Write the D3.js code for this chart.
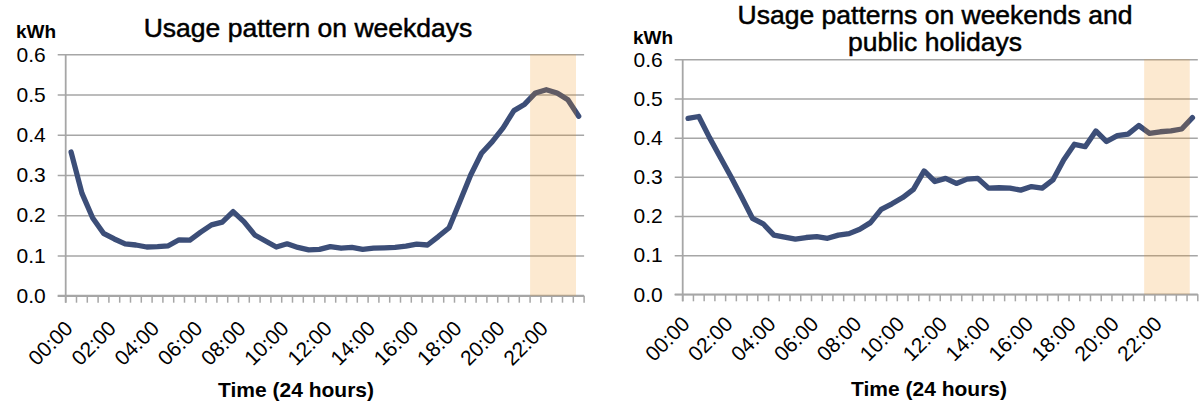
<!DOCTYPE html>
<html>
<head>
<meta charset="utf-8">
<script src="https://cdn.jsdelivr.net/npm/d3@7"></script>
<style>
  html, body { margin: 0; padding: 0; background: #fff; }
  svg { display: block; }
  text { font-family: "Liberation Sans", Arial, sans-serif; fill: #000; }
</style>
</head>
<body>
<svg id="chart" width="1200" height="403"></svg>
<script>
// ---- data ----
const categories = [
  "00:00","00:30","01:00","01:30","02:00","02:30","03:00","03:30",
  "04:00","04:30","05:00","05:30","06:00","06:30","07:00","07:30",
  "08:00","08:30","09:00","09:30","10:00","10:30","11:00","11:30",
  "12:00","12:30","13:00","13:30","14:00","14:30","15:00","15:30",
  "16:00","16:30","17:00","17:30","18:00","18:30","19:00","19:30",
  "20:00","20:30","21:00","21:30","22:00","22:30","23:00","23:30"
];
const weekdayUsage = [
  0.357, 0.255, 0.193, 0.155, 0.141, 0.129, 0.126, 0.121,
  0.122, 0.124, 0.139, 0.138, 0.158, 0.176, 0.183, 0.209,
  0.184, 0.151, 0.136, 0.121, 0.129, 0.120, 0.114, 0.115,
  0.122, 0.118, 0.120, 0.115, 0.118, 0.119, 0.120, 0.123,
  0.128, 0.126, 0.147, 0.169, 0.234, 0.300, 0.354, 0.383,
  0.417, 0.460, 0.476, 0.504, 0.512, 0.504, 0.487, 0.446
];
const weekendUsage = [
  0.449, 0.454, 0.400, 0.350, 0.300, 0.248, 0.194, 0.180,
  0.151, 0.146, 0.141, 0.145, 0.147, 0.143, 0.151, 0.155,
  0.166, 0.183, 0.217, 0.231, 0.247, 0.268, 0.315, 0.288,
  0.296, 0.283, 0.294, 0.296, 0.271, 0.272, 0.271, 0.266,
  0.275, 0.271, 0.292, 0.343, 0.383, 0.377, 0.417, 0.390,
  0.405, 0.409, 0.431, 0.411, 0.415, 0.417, 0.422, 0.451
];
const tickLabels = ["00:00","02:00","04:00","06:00","08:00","10:00",
                    "12:00","14:00","16:00","18:00","20:00","22:00"];
const yTicks = [0, 0.1, 0.2, 0.3, 0.4, 0.5, 0.6];
const peakBand = ["21:30", "23:30"];
const yMax = 0.6;

// ---- layout ----
const panels = [
  {
    values: weekdayUsage,
    titleLines: ["Usage pattern on weekdays"],
    titleX: 308, titleY: [36.5],
    unitX: 16, unitY: 38,
    left: 65.7, right: 584.1, top: 54.3, bottom: 295.7,
    labelDy: 34, axisTitleX: 296, axisTitleY: 397
  },
  {
    values: weekendUsage,
    titleLines: ["Usage patterns on weekends and", "public holidays"],
    titleX: 935, titleY: [23.5, 51],
    unitX: 633, unitY: 44,
    left: 682.7, right: 1197.8, top: 59.3, bottom: 294.3,
    labelDy: 31, axisTitleX: 929, axisTitleY: 396
  }
];

const svg = d3.select("#chart");
svg.append("rect").attr("width", 1200).attr("height", 403).attr("fill", "#fff");

const lineColor = "#3c4e78";
const gridColor = "#a6a6a6";

panels.forEach(p => {
  const g = svg.append("g");
  const x = d3.scaleBand().domain(categories).range([p.left, p.right]).padding(0);
  const y = d3.scaleLinear().domain([0, yMax]).range([p.bottom, p.top]);
  const bw = x.bandwidth();
  const w = p.right - p.left;

  // gridlines + y labels
  const yAxis = d3.axisLeft(y).tickValues(yTicks).tickFormat(d3.format(".1f"))
    .tickSize(-(w + 8)).tickPadding(12);
  const ya = g.append("g").attr("transform", `translate(${p.left - 8},0)`).call(yAxis);
  ya.select(".domain").remove();
  ya.selectAll(".tick line").attr("stroke", gridColor).attr("stroke-width", 1.5);
  ya.selectAll(".tick text").attr("font-size", 21).attr("fill", "#000")
    .style("font-family", '"Liberation Sans", Arial, sans-serif');

  // x tick marks at category boundaries
  const bounds = categories.map(c => x(c)).concat([p.right]);
  g.append("g").selectAll("line").data(bounds).join("line")
    .attr("x1", d => d).attr("x2", d => d)
    .attr("y1", p.bottom).attr("y2", p.bottom + 7)
    .attr("stroke", gridColor).attr("stroke-width", 1.5);

  // y axis line
  g.append("line").attr("x1", p.left).attr("x2", p.left)
    .attr("y1", p.top).attr("y2", p.bottom + 7)
    .attr("stroke", gridColor).attr("stroke-width", 1.8);
  // x axis line
  g.append("line").attr("x1", p.left - 8).attr("x2", p.right)
    .attr("y1", p.bottom).attr("y2", p.bottom)
    .attr("stroke", gridColor).attr("stroke-width", 1.8);

  // data line
  const line = d3.line()
    .x((d, i) => x(categories[i]) + bw / 2)
    .y(d => y(d));
  g.append("path").datum(p.values)
    .attr("d", line)
    .attr("fill", "none")
    .attr("stroke", lineColor)
    .attr("stroke-width", 5.3)
    .attr("stroke-linejoin", "round")
    .attr("stroke-linecap", "round");

  // peak band overlay
  const bx0 = x(peakBand[0]);
  const bx1 = x(peakBand[1]) + bw * 0.25;
  g.append("rect")
    .attr("x", bx0).attr("y", y(yMax))
    .attr("width", bx1 - bx0).attr("height", y(0) - y(yMax))
    .attr("fill", "rgb(240,145,20)").attr("fill-opacity", 0.2);

  // x labels
  g.append("g").selectAll("text").data(tickLabels).join("text")
    .attr("transform", d => `translate(${x(d) + bw / 2 + 3},${p.bottom + p.labelDy}) rotate(-45)`)
    .attr("text-anchor", "end")
    .attr("font-size", 21)
    .text(d => d);

  // titles
  p.titleLines.forEach((t, i) => {
    g.append("text").attr("x", p.titleX).attr("y", p.titleY[i])
      .attr("text-anchor", "middle").attr("font-size", 26.5)
      .attr("stroke", "#000").attr("stroke-width", 0.5)
      .text(t);
  });
  g.append("text").attr("x", p.unitX).attr("y", p.unitY)
    .attr("font-size", 19).attr("font-weight", "bold").text("kWh");
  g.append("text").attr("x", p.axisTitleX).attr("y", p.axisTitleY)
    .attr("text-anchor", "middle").attr("font-size", 21).attr("font-weight", "bold")
    .text("Time (24 hours)");
});
</script>
</body>
</html>
